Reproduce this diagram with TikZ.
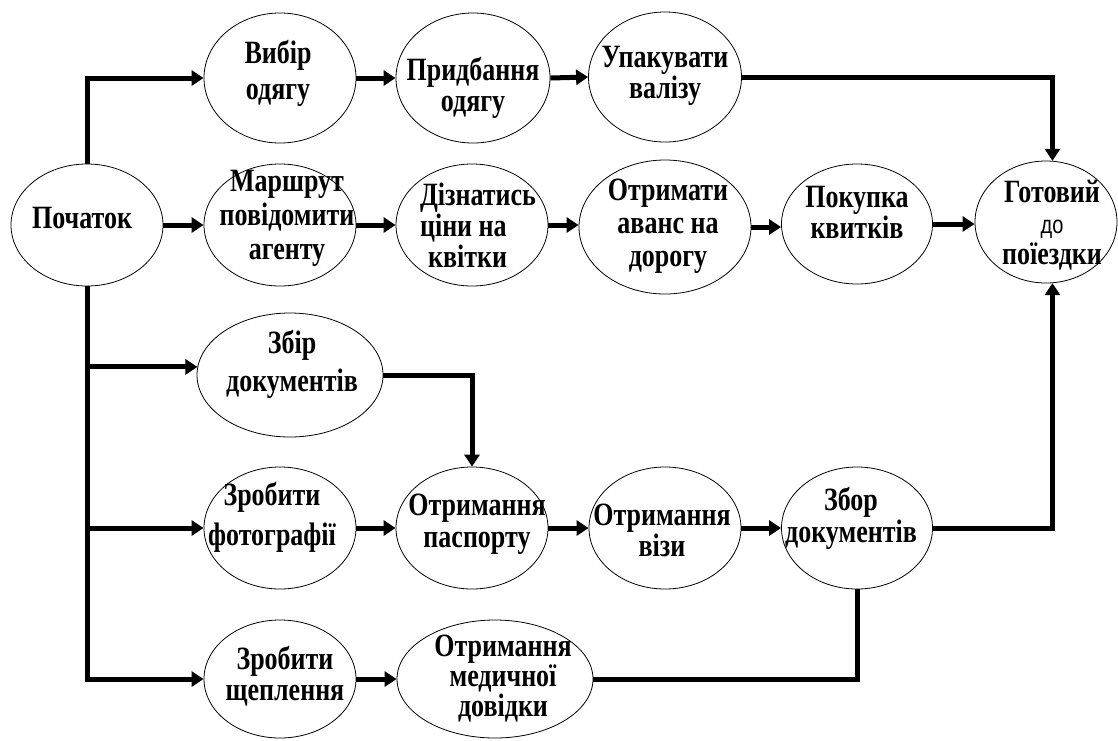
\documentclass[tikz,border=0pt]{standalone}
\usepackage{graphicx}
\usepackage{fontspec}
\setmainfont{Liberation Serif}
\newfontfamily\sansdo{Liberation Sans}
\newcommand{\vs}[1]{\scalebox{1}[1.25]{#1}}
\usetikzlibrary{shapes.geometric,arrows.meta}
\begin{document}
\begin{tikzpicture}[x=1pt,y=-1pt,
  ell/.style={draw,ellipse,line width=0.8pt,inner sep=0pt},
  sz/.style n args={2}{minimum width=#1pt,minimum height=#2pt},
  lbl/.style={font={\bfseries\fontsize{26}{#1}\selectfont\lineskiplimit=-100pt},align=center,inner sep=0pt},
  lbl/.default=32,
  conn/.style={line width=5pt},
  arr/.style={conn,-{Triangle[length=12pt,width=15pt]}}]
\useasboundingbox (0,0) rectangle (1118,740);
% ellipses
\node[ell,sz={152}{122}] (start) at (87,225) {};
\node[ell,sz={152}{130}] (vybir) at (280,78) {};
\node[ell,sz={154}{130}] (prid) at (473,78) {};
\node[ell,sz={153}{130}] (upak) at (665,77) {};
\node[ell,sz={152}{122}] (marsh) at (280,225) {};
\node[ell,sz={152}{122}] (diz) at (472,225) {};
\node[ell,sz={172}{134}] (otr) at (665,227) {};
\node[ell,sz={151}{120}] (pok) at (857,224) {};
\node[ell,sz={142}{122}] (got) at (1046,222) {};
\node[ell,sz={186}{124}] (zbir) at (290,375) {};
\node[ell,sz={152}{122}] (foto) at (280,528) {};
\node[ell,sz={152}{122}] (pasp) at (472,528) {};
\node[ell,sz={152}{122}] (viza) at (665,528) {};
\node[ell,sz={151}{122}] (zbor) at (857,528) {};
\node[ell,sz={152}{118}] (shch) at (280,679) {};
\node[ell,sz={196}{118}] (med) at (495,679) {};
% labels
\node[lbl=36] (t-vybir) at (278,73) {\vs{Вибір}\\\vs{одягу}};
\node[lbl=31] (t-prid) at (473,88) {\vs{Придбання}\\\vs{одягу}};
\node[lbl=31] (t-upak) at (665,76) {\vs{Упакувати}\\\vs{валізу}};
\node[lbl] (t-start) at (82,218) {\vs{Початок}};
\node[lbl=34] (t-marsh) at (287,218) {\vs{Маршрут}\\\vs{повідомити}\\\vs{агенту}};
\node[lbl=31,align=left] (t-diz) at (478,225) {\vs{Дізнатись}\\\vs{ціни на}\\\hspace*{8pt}\vs{квітки}};
\node[lbl=33] (t-otr) at (668,226) {\vs{Отримати}\\\vs{аванс на}\\\vs{дорогу}};
\node[lbl=31] (t-pok) at (857,212) {\vs{Покупка}\\\vs{квитків}};
\node[lbl=31] (t-got) at (1052,225) {\vs{Готовий}\\\vs{\sansdo\mdseries\fontsize{20}{30}\selectfont до}\\\vs{поїездки}};
\node[lbl=38] (t-zbir) at (292,364) {\vs{Збір}\\\vs{документів}};
\node[lbl=40] (t-foto) at (272,517) {\vs{Зробити}\\\vs{фотографії}};
\node[lbl=32] (t-pasp) at (477,524) {\vs{Отримання}\\\vs{паспорту}};
\node[lbl=31] (t-viza) at (662,530) {\vs{Отримання}\\\vs{візи}};
\node[lbl=32] (t-zbor) at (851,518) {\vs{Збор}\\\vs{документів}};
\node[lbl=31] (t-shch) at (285,676) {\vs{Зробити}\\\vs{щеплення}};
\node[lbl=30] (t-med) at (503,679) {\vs{Отримання}\\\vs{медичної}\\\vs{довідки}};
% connectors
\draw[arr] (start.north) |- (vybir.west);
\draw[arr] (vybir.east) -- (prid.west);
\draw[arr] (prid.east) -- (upak.west);
\draw[arr] (upak.east) -| (got.84);
\draw[arr] (start.east) -- (marsh.west);
\draw[arr] (marsh.east) -- (diz.west);
\draw[arr] (diz.east) -- (diz.east -| otr.west);
\draw[arr] (otr.east) -- (otr.east -| pok.west);
\draw[arr] (pok.east) -- (pok.east -| got.west);
\draw[arr] (start.south) |- (shch.west);
\draw[arr] (start.south |- zbir.175) -- (zbir.175);
\draw[arr] (start.south |- foto.west) -- (foto.west);
\draw[arr] (zbir.east) -| (pasp.north);
\draw[arr] (foto.east) -- (pasp.west);
\draw[arr] (pasp.east) -- (viza.west);
\draw[arr] (viza.east) -- (zbor.west);
\draw[arr] (zbor.east) -| (got.-84);
\draw[conn] (zbor.south) |- (med.east);
\draw[arr] (shch.east) -- (med.west);
\end{tikzpicture}
\end{document}
